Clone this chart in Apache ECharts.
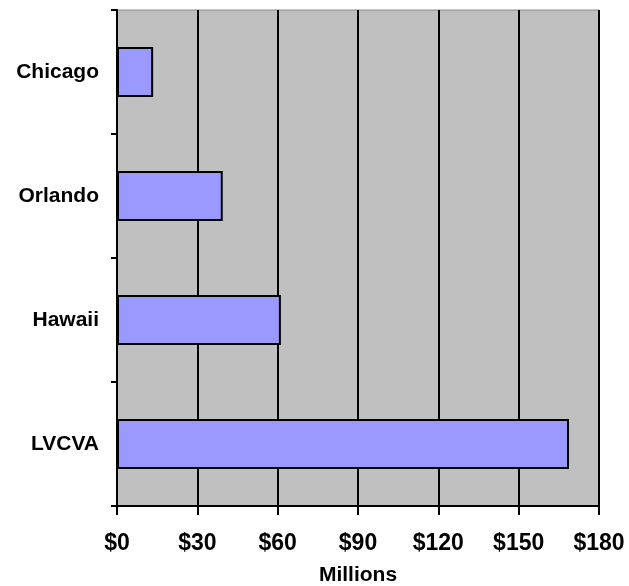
<!DOCTYPE html>
<html>
<head>
<meta charset="utf-8">
<script src="https://cdn.jsdelivr.net/npm/echarts@6/dist/echarts.min.js"></script>
<style>
    html, body { margin: 0; padding: 0; background: #fff; }
    #chart { width: 629px; height: 586px; }
</style>
</head>
<body>
<div id="chart"></div>
<script>
    // Values in millions of dollars
    const categories = ['Chicago', 'Orlando', 'Hawaii', 'LVCVA'];
    const spending = [13.5, 39.5, 61.2, 168.8];
    const axisTitle = 'Millions';
    const xMin = 0, xMax = 180, xStep = 30;

    const chart = echarts.init(document.getElementById('chart'));
    const labelFont = { fontFamily: 'Liberation Sans, Arial, sans-serif', fontWeight: 'bold', color: '#000' };

    const option = {
        animation: false,
        grid: {
            left: 117,
            right: 30,
            top: 10,
            bottom: 80,
            outerBoundsMode: 'none',
            containLabel: false,
            show: true,
            backgroundColor: '#c0c0c0',
            borderColor: '#8c8c8c',
            borderWidth: 1
        },
        xAxis: {
            type: 'value',
            min: xMin,
            max: xMax,
            interval: xStep,
            name: axisTitle,
            nameLocation: 'middle',
            nameGap: 59,
            nameTextStyle: Object.assign({ fontSize: 21 }, labelFont),
            axisLine: { show: true, lineStyle: { color: '#000', width: 2 } },
            axisTick: { show: true, length: 9, lineStyle: { color: '#000', width: 2 } },
            axisLabel: Object.assign({
                fontSize: 23,
                margin: 26,
                formatter: v => '$' + v
            }, labelFont),
            splitLine: { show: true, lineStyle: { color: '#000', width: 2 } }
        },
        yAxis: {
            type: 'category',
            data: categories,
            inverse: true,
            axisLine: { show: true, lineStyle: { color: '#000', width: 2 } },
            axisTick: { show: true, length: 6, lineStyle: { color: '#000', width: 2 } },
            axisLabel: Object.assign({ fontSize: 21, margin: 18 }, labelFont),
            splitLine: { show: false }
        },
        series: [{
            type: 'bar',
            data: spending,
            barWidth: 50,
            itemStyle: {
                color: '#9999ff',
                borderColor: '#000',
                borderWidth: 2
            }
        }]
    };
    chart.setOption(option);
</script>
</body>
</html>
